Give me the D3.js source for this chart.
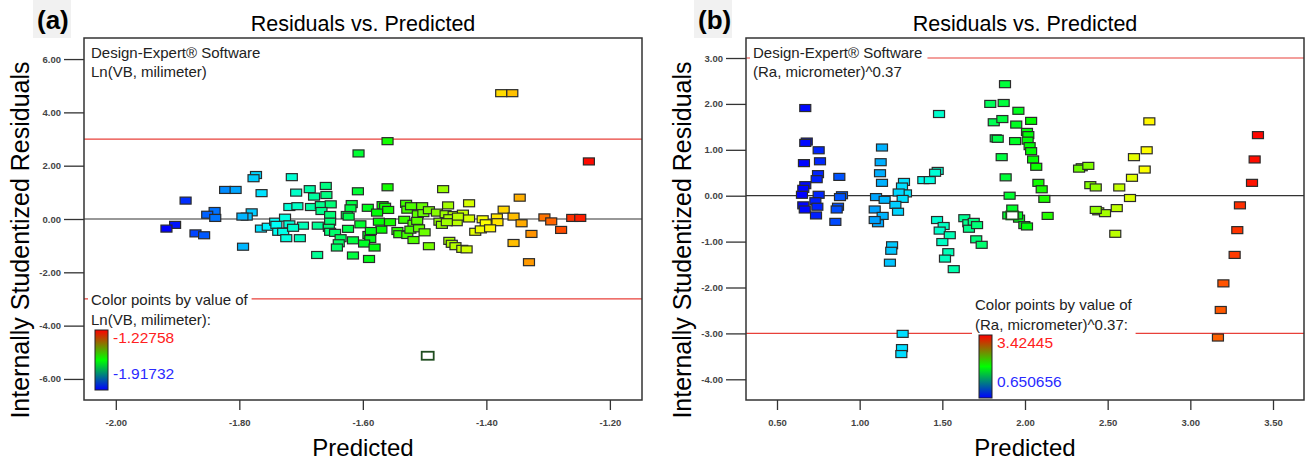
<!DOCTYPE html>
<html>
<head>
<meta charset="utf-8">
<script src="https://cdn.jsdelivr.net/npm/d3@7"></script>
<style>
  body { margin: 0; background: #fff; }
  text { font-family: "Liberation Sans", Arial, sans-serif; }
</style>
</head>
<body>
<svg id="chart" width="1309" height="463"></svg>
<script>
// panel (a): Ln(VB, milimeter)
var aPredicted = [-1.773,-1.777,-1.823,-1.806,-1.764,-1.887,-1.840,-1.852,-1.839,-1.780,-1.788,-1.795,-1.904,-1.918,-1.871,-1.857,-1.794,-1.765,-1.754,-1.742,-1.740,-1.737,
  -1.560,-1.607,-1.715,-1.686,-1.660,-1.708,-1.679,-1.659,-1.608,-1.560,-1.470,-1.719,-1.706,-1.684,-1.668,-1.652,-1.667,-1.653,-1.653,-1.618,-1.620,-1.626,-1.623,-1.592,
  -1.568,-1.564,-1.559,-1.577,-1.530,-1.528,-1.522,-1.504,-1.511,-1.502,-1.493,-1.480,-1.462,-1.466,-1.453,-1.438,-1.726,-1.719,-1.729,-1.724,-1.702,-1.697,-1.713,
  -1.673,-1.655,-1.653,-1.674,-1.624,-1.604,-1.645,-1.636,-1.639,-1.642,-1.616,-1.616,-1.591,-1.588,-1.598,-1.581,-1.590,-1.570,-1.556,-1.587,-1.574,-1.544,-1.541,
  -1.528,-1.533,-1.518,-1.523,-1.509,-1.518,-1.500,-1.512,-1.493,-1.476,-1.472,-1.460,-1.448,-1.446,-1.464,-1.460,-1.456,-1.450,-1.439,-1.428,
  -1.376,-1.358,-1.234,-1.428,-1.346,-1.372,-1.406,-1.401,-1.383,-1.382,-1.356,-1.343,-1.418,-1.409,-1.394,-1.432,-1.356,-1.327,-1.331,-1.306,-1.295,-1.279,-1.261,-1.248];
var aResidual = [1.65,1.53,1.09,1.09,0.97,0.69,0.30,0.16,0.04,0.25,0.09,0.09,-0.22,-0.36,-0.54,-0.61,-1.04,-0.36,-0.29,-0.10,-0.22,-0.48,
  2.92,2.46,1.57,1.12,1.24,0.99,0.84,0.90,1.04,1.19,1.12,0.45,0.48,0.45,0.52,0.55,0.30,0.15,-0.10,0.56,0.40,0.15,0.09,0.42,
  0.52,0.46,0.34,0.24,0.57,0.35,0.48,0.48,0.18,0.22,0.33,0.24,0.51,0.18,0.15,0.20,0.05,-0.20,-0.48,-0.72,-0.72,-0.25,-0.33,
  -0.25,-0.33,-0.48,-1.35,-0.37,-0.20,-0.52,-0.72,-0.91,-1.07,-0.80,-1.37,-0.60,-0.75,-0.92,-1.07,-1.50,-0.40,-0.12,-0.45,-0.10,-0.45,-0.57,
  -0.60,-0.03,-0.18,-0.40,-0.35,-0.79,-0.50,-0.07,-1.02,-0.10,-0.22,0.03,-0.12,0.09,-0.12,-0.82,-0.93,-1.02,-1.12,0.02,
  4.72,4.72,2.16,0.59,0.80,0.35,-0.01,-0.16,0.06,-0.12,0.09,-0.16,-0.48,-0.39,-0.35,-1.14,-0.90,-0.56,-1.62,0.06,-0.09,-0.41,0.04,0.04];
var aHighlight = [-1.495, -5.13];
var aRange = [-1.91732, -1.22758];
var aXTicks = [-2.0, -1.8, -1.6, -1.4, -1.2];
var aYTicks = [6, 4, 2, 0, -2, -4, -6];

// panel (b): (Ra, micrometer)^0.37
var bPredicted = [0.671,0.680,0.671,0.752,0.760,0.663,0.748,0.740,0.671,0.659,0.651,0.752,0.732,0.659,0.668,0.744,0.736,0.877,0.893,0.881,0.869,0.861,0.853,
  1.135,1.127,1.123,1.135,1.099,1.151,1.091,1.139,1.111,1.091,1.268,1.256,1.280,1.236,1.260,1.216,1.232,1.196,1.191,1.183,1.260,1.256,1.252,1.385,
  1.480,1.472,1.456,1.424,1.879,1.790,1.871,1.960,2.037,1.811,1.863,1.947,1.823,1.835,1.940,2.012,2.020,2.016,2.028,2.037,2.049,2.068,1.859,1.883,1.907,
  2.081,2.101,2.117,2.137,1.923,1.899,1.964,1.996,2.012,1.952,1.468,1.508,1.484,1.545,1.500,1.536,1.516,1.569,1.633,1.657,1.690,1.661,1.710,1.705,1.738,
  2.343,2.327,2.383,2.395,2.428,2.443,2.484,2.428,2.752,2.736,2.659,2.724,2.647,2.570,2.635,2.555,2.546,
  3.409,3.389,3.373,3.300,3.284,3.268,3.200,3.184,3.167];
var bResidual = [1.91,1.18,1.15,0.99,0.75,0.71,0.47,0.36,0.23,0.15,0.02,0.02,-0.12,-0.21,-0.30,-0.24,-0.43,0.41,0.01,-0.03,-0.24,-0.30,-0.57,
  1.05,0.73,0.49,0.28,-0.03,-0.09,-0.30,-0.44,-0.60,-0.53,0.30,0.20,0.05,0.07,-0.07,-0.20,-0.35,-1.08,-1.20,-1.46,-3.01,-3.32,-3.45,0.34,
  1.78,0.54,0.50,0.34,2.43,2.00,2.02,1.85,1.63,1.60,1.67,1.55,1.25,1.24,1.19,1.39,1.32,1.20,1.08,0.97,0.79,0.63,0.84,0.40,0.00,
  0.28,0.14,-0.07,-0.44,-0.28,-0.43,-0.50,-0.64,-0.67,-0.43,-0.53,-0.66,-0.76,-0.86,-1.01,-1.23,-1.37,-1.60,-0.49,-0.60,-0.57,-0.72,-0.64,-0.95,-1.07,
  0.62,0.59,0.65,0.23,0.18,-0.34,-0.38,-0.31,1.62,0.99,0.84,0.57,0.39,0.18,-0.05,-0.27,-0.83,
  1.32,0.79,0.28,-0.21,-0.75,-1.29,-1.91,-2.49,-3.09];
var bHighlight = [1.923, -0.43];
var bRange = [0.650656, 3.42445];
var bXTicks = [0.5, 1.0, 1.5, 2.0, 2.5, 3.0, 3.5];
var bYTicks = [3, 2, 1, 0, -1, -2, -3, -4];

var svg = d3.select("#chart");

// one linear gradient for both colour bars: red top, green middle, blue bottom
var grad = svg.append("defs").append("linearGradient")
    .attr("id", "bar")
    .attr("x1", 0).attr("y1", 0).attr("x2", 0).attr("y2", 1);
grad.append("stop").attr("offset", "0%").attr("stop-color", "#ff0000");
grad.append("stop").attr("offset", "50%").attr("stop-color", "#00ff00");
grad.append("stop").attr("offset", "100%").attr("stop-color", "#0000ff");

function fmt(v) { return v.toFixed(2); }

function drawPanel(p) {
  var g = svg.append("g");

  var x = d3.scaleLinear().domain(p.xDomain).range([p.left, p.right]);
  var y = d3.scaleLinear().domain(p.yDomain).range([p.bottom, p.top]);
  var hue = d3.scaleLinear().domain(p.range).range([240, 0]).clamp(true);
  var color = function(v) { return d3.hsl(hue(v), 1, 0.5).toString(); };

  var cx = (p.left + p.right) / 2;

  // panel tag
  g.append("rect")
    .attr("x", p.tagX - 4).attr("y", 0)
    .attr("width", 38).attr("height", 38)
    .attr("fill", "#f1f1f1");
  g.append("text")
    .attr("x", p.tagX).attr("y", 29)
    .attr("font-size", "26px").attr("font-weight", "bold")
    .text(p.tag);

  g.append("text")
    .attr("x", cx).attr("y", 31)
    .attr("font-size", "21.5px")
    .style("text-anchor", "middle")
    .text("Residuals vs. Predicted");

  g.append("text")
    .attr("transform", "translate(" + (p.left - 55) + "," + 240 + ") rotate(-90)")
    .attr("font-size", "25px")
    .style("text-anchor", "middle")
    .text("Internally Studentized Residuals");

  g.append("text")
    .attr("x", cx).attr("y", 456)
    .attr("font-size", "24px")
    .style("text-anchor", "middle")
    .text("Predicted");

  // reference lines
  g.append("line")
    .attr("x1", p.left).attr("x2", p.right)
    .attr("y1", y(0)).attr("y2", y(0))
    .attr("stroke", "#333").attr("stroke-width", 1.2);
  g.selectAll(".limit")
    .data([3, -3])
    .enter()
    .append("line")
      .attr("x1", p.left).attr("x2", p.right)
      .attr("y1", d => y(d)).attr("y2", d => y(d))
      .attr("stroke", "#e8403a").attr("stroke-width", 1.2);

  // software note, top left
  var note = g.append("g");
  note.append("text")
    .attr("x", p.left + 7).attr("y", p.top + 20)
    .attr("font-size", "15px").attr("fill", "#222")
    .text("Design-Expert\u00ae Software");
  note.append("text")
    .attr("x", p.left + 7).attr("y", p.top + 39)
    .attr("font-size", "15px").attr("fill", "#222")
    .text(p.response);
  var nb = note.node().getBBox();
  note.insert("rect", ":first-child")
    .attr("x", nb.x - 3).attr("y", nb.y - 1)
    .attr("width", nb.width + 8).attr("height", nb.height + 2)
    .attr("fill", "#fff");

  // colour legend
  var leg = g.append("g");
  leg.append("text")
    .attr("x", p.legX).attr("y", p.legY)
    .attr("font-size", "15px").attr("fill", "#222")
    .text("Color points by value of");
  leg.append("text")
    .attr("x", p.legX).attr("y", p.legY + 20)
    .attr("font-size", "15px").attr("fill", "#222")
    .text(p.response + ":");
  leg.append("rect")
    .attr("x", p.legX + 4).attr("y", p.legY + 25)
    .attr("width", 13).attr("height", p.barH)
    .attr("fill", "url(#bar)")
    .attr("stroke", "#222").attr("stroke-width", 1);
  leg.append("text")
    .attr("x", p.legX + 22).attr("y", p.legY + 38)
    .attr("font-size", "15.5px").attr("fill", "#ff2020")
    .text(p.maxLabel);
  leg.append("text")
    .attr("x", p.legX + 22).attr("y", p.legY + 22 + p.barH - 8)
    .attr("font-size", "15.5px").attr("fill", "#2a2aff")
    .text(p.minLabel);
  var lb = leg.node().getBBox();
  leg.insert("rect", ":first-child")
    .attr("x", lb.x - 3).attr("y", lb.y)
    .attr("width", lb.width + 6).attr("height", lb.height)
    .attr("fill", "#fff");

  // points
  var pts = p.xs.map((v, i) => ({ x: v, y: p.ys[i] }));
  g.selectAll(".pt")
    .data(pts)
    .enter()
    .append("rect")
      .classed("pt", true)
      .attr("x", d => x(d.x) - 5.5)
      .attr("y", d => y(d.y) - 3.5)
      .attr("width", 11).attr("height", 7)
      .attr("fill", d => color(d.x))
      .attr("stroke", "#2b2b2b").attr("stroke-width", 1.2);

  // highlighted point, white with dark green outline
  g.append("rect")
    .attr("x", x(p.highlight[0]) - 6)
    .attr("y", y(p.highlight[1]) - 4)
    .attr("width", 12).attr("height", 8)
    .attr("fill", "#fff")
    .attr("stroke", "#1f4d1f").attr("stroke-width", 1.8);

  // axes
  var yAxis = g.append("g")
    .attr("transform", "translate(" + p.left + ",0)")
    .call(d3.axisLeft(y).tickValues(p.yTicks).tickSize(20).tickPadding(3).tickFormat(fmt));
  var xAxis = g.append("g")
    .attr("transform", "translate(0," + p.bottom + ")")
    .call(d3.axisBottom(x).tickValues(p.xTicks).tickSize(10).tickPadding(9).tickFormat(fmt));
  [yAxis, xAxis].forEach(a => {
    a.select(".domain").remove();
    a.selectAll("line").attr("stroke", "#333").attr("stroke-width", 1.3);
    a.selectAll("text")
      .attr("font-size", "9.5px").attr("font-weight", "bold")
      .attr("fill", "#444")
      .style("font-family", "'Liberation Sans', Arial, sans-serif");
  });

  g.append("rect")
    .attr("x", p.left).attr("y", p.top)
    .attr("width", p.right - p.left).attr("height", p.bottom - p.top)
    .attr("fill", "none")
    .attr("stroke", "#333").attr("stroke-width", 1.5);
}

drawPanel({
  tag: "(a)", tagX: 37,
  left: 84, right: 642, top: 38, bottom: 400,
  xDomain: [-2.0515, -1.148], yDomain: [-6.79, 6.79],
  xTicks: aXTicks, yTicks: aYTicks,
  xs: aPredicted, ys: aResidual, highlight: aHighlight,
  range: aRange,
  response: "Ln(VB, milimeter)",
  maxLabel: "-1.22758", minLabel: "-1.91732",
  legX: 91, legY: 305, barH: 60
});

drawPanel({
  tag: "(b)", tagX: 698,
  left: 746, right: 1304, top: 38, bottom: 400,
  xDomain: [0.3125, 3.6875], yDomain: [-4.451, 3.436],
  xTicks: bXTicks, yTicks: bYTicks,
  xs: bPredicted, ys: bResidual, highlight: bHighlight,
  range: bRange,
  response: "(Ra, micrometer)^0.37",
  maxLabel: "3.42445", minLabel: "0.650656",
  legX: 975, legY: 310, barH: 63
});
</script>
</body>
</html>
